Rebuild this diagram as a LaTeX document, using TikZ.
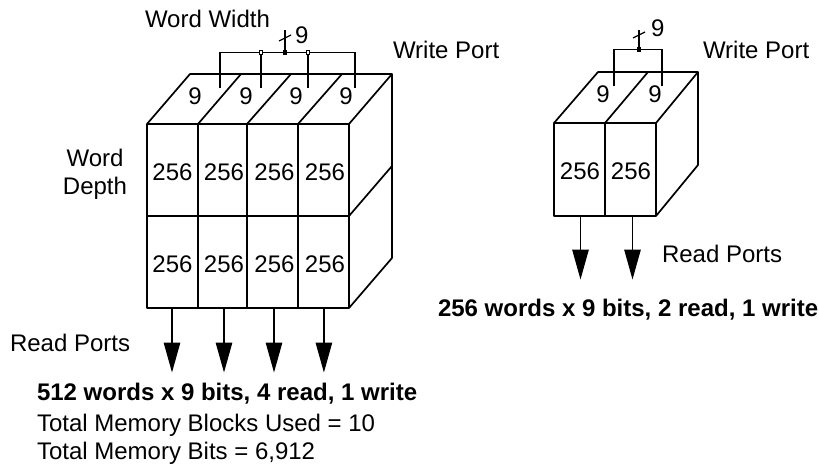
\documentclass[tikz,border=0pt]{standalone}
\usepackage{fontspec}
\setmainfont{Liberation Sans}
\usetikzlibrary{arrows.meta}
\tikzset{
  every node/.style={inner sep=0pt,outer sep=0pt,font=\fontsize{24}{26}\selectfont},
  box/.style={line width=1.7pt,line join=round},
  wire/.style={line width=1.2pt},
  rd/.style={line width=1.2pt,-{Triangle[length=30pt,width=16.5pt,fill=black]}},
  txt/.style={anchor=base west},
  ctr/.style={anchor=base},
  bold/.style={anchor=base west,font=\fontsize{24}{26}\selectfont\bfseries},
  opendot/.style={draw,fill=white,line width=.7pt,minimum size=3.5pt,shape=rectangle},
  soliddot/.style={draw,fill=black,line width=.7pt,minimum size=3.5pt,shape=rectangle}
}
\begin{document}
\begin{tikzpicture}[x=1pt,y=-1pt]
\useasboundingbox (0,0) rectangle (819,465);
% left block
\foreach \n/\x in {a/147,b/198,c/247,d/298,e/349}{
  \coordinate (\n1) at (\x,124);
  \coordinate (\n2) at (\x,216);
  \coordinate (\n3) at (\x,308);
}
\foreach \n/\x in {a/190,b/241,c/291,d/342,e/392}{
  \coordinate (\n0) at (\x,74);
}
\coordinate (e4) at (392,166);
\coordinate (e5) at (392,258);
\draw[box] (a1) -- (a0) -- (e0) -- (e5) -- (e3) -- (a3) -- cycle;
\draw[box] (a1) -- (e1) -- (e3);
\draw[box] (a2) -- (e2) -- (e4);
\draw[box] (e1) -- (e0);
\foreach \n in {b,c,d}{
  \draw[box] (\n0) -- (\n1) -- (\n3);
}
\foreach \x/\y/\l in {172.5/172/A,224/172/B,274.5/172/C,325/172/D,172.5/264/E,224/264/F,274.5/264/G,325/264/H}{
  \node[anchor=center] (n\l) at (\x,\y) {256};
}
\foreach \x/\l in {195/a,246/b,296/c,346/d}{
  \node[anchor=center] (t\l) at (\x,96) {9};
}
% left bus
\foreach \n/\x in {p/220,q/261,r/308,s/355}{
  \coordinate (\n) at (\x,52.5);
  \coordinate (\n d) at (\x,88);
}
\draw[wire] (pd) -- (p) -- (s) -- (sd);
\draw[wire] (q) -- (qd);
\draw[wire] (r) -- (rd);
\node[opendot] (qn) at (q) {};
\node[opendot] (rn) at (r) {};
\node[soliddot] (mn) at (285,52.5) {};
\coordinate (mt) at (285,30);
\coordinate (s1) at (279,41);
\coordinate (s2) at (291,35);
\draw[wire] (mn) -- (mt);
\draw[wire] (s1) -- (s2);
% left arrows
\foreach \i/\x in {1/172,2/224,3/274,4/323.9}{
  \coordinate (f\i) at (\x,308);
  \coordinate (g\i) at (\x,372.5);
  \draw[rd] (f\i) -- (g\i);
}
% right block
\foreach \n/\x in {u/554,v/605,w/656}{
  \coordinate (\n1) at (\x,123);
  \coordinate (\n3) at (\x,216);
}
\foreach \n/\x in {u/598,v/648,w/698}{
  \coordinate (\n0) at (\x,72);
}
\coordinate (w5) at (698,165);
\draw[box] (u1) -- (u0) -- (w0) -- (w5) -- (w3) -- (u3) -- cycle;
\draw[box] (u1) -- (w1) -- (w3);
\draw[box] (w1) -- (w0);
\draw[box] (v0) -- (v1) -- (v3);
\node[anchor=center] (nI) at (580,171) {256};
\node[anchor=center] (nJ) at (631,171) {256};
\node[anchor=center] (tu) at (603,94) {9};
\node[anchor=center] (tv) at (655,94) {9};
\coordinate (x1) at (614,49.5);
\coordinate (x2) at (662,49.5);
\coordinate (x1d) at (614,86);
\coordinate (x2d) at (662,86);
\draw[wire] (x1d) -- (x1) -- (x2) -- (x2d);
\node[soliddot] (mr) at (639,49.5) {};
\coordinate (mrt) at (639,30);
\coordinate (s3) at (633,38);
\coordinate (s4) at (645,32);
\draw[wire] (mr) -- (mrt);
\draw[wire] (s3) -- (s4);
\coordinate (h1) at (580.5,216);
\coordinate (i1) at (580.5,279.5);
\coordinate (h2) at (632.5,216);
\coordinate (i2) at (632.5,279.5);
\draw[rd] (h1) -- (i1);
\draw[rd] (h2) -- (i2);
% labels
\node[txt] (lww) at (145,28) {Word Width};
\node[txt] (l9a) at (295,43.5) {9};
\node[txt] (lwp) at (393,59) {Write Port};
\node[ctr] (lwd1) at (95,167) {Word};
\node[ctr] (lwd2) at (95,195) {Depth};
\node[txt] (lrp) at (10,351) {Read Ports};
\node[bold] (lb1) at (37,400) {512 words x 9 bits, 4 read, 1 write};
\node[txt] (lt1) at (37,431) {Total Memory Blocks Used = 10};
\node[txt] (lt2) at (37,459) {Total Memory Bits = 6,912};
\node[txt] (l9b) at (651,37) {9};
\node[txt] (lwq) at (703,59) {Write Port};
\node[txt] (lrq) at (662,262) {Read Ports};
\node[bold] (lb2) at (438,316) {256 words x 9 bits, 2 read, 1 write};
\end{tikzpicture}
\end{document}
